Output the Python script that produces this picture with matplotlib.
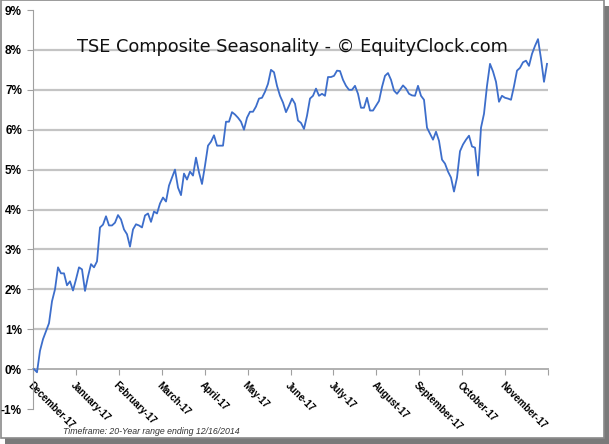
import matplotlib
matplotlib.use("Agg")
import matplotlib.pyplot as plt
import numpy as np
from matplotlib.patches import Rectangle

title = "TSE Composite Seasonality - \u00a9 EquityClock.com"
footer = "Timeframe: 20-Year range ending 12/16/2014"
months = ["December-17", "January-17", "February-17", "March-17", "April-17",
          "May-17", "June-17", "July-17", "August-17", "September-17",
          "October-17", "November-17"]
yticks = [-1, 0, 1, 2, 3, 4, 5, 6, 7, 8, 9]

# seasonal cumulative return (%), equally spaced through the year
values = [
    0.0, -0.08, 0.46, 0.75, 0.95, 1.15, 1.7, 2.0, 2.55, 2.4,
    2.4, 2.1, 2.2, 1.97, 2.25, 2.55, 2.5, 1.96, 2.32, 2.63,
    2.55, 2.7, 3.55, 3.62, 3.83, 3.6, 3.6, 3.67, 3.86, 3.75,
    3.5, 3.38, 3.07, 3.5, 3.63, 3.6, 3.55, 3.85, 3.9, 3.69,
    3.95, 3.9, 4.15, 4.3, 4.2, 4.6, 4.8, 5.0, 4.55, 4.36,
    4.9, 4.75, 4.95, 4.85, 5.3, 4.93, 4.64, 5.1, 5.6, 5.7,
    5.86, 5.6, 5.6, 5.6, 6.2, 6.2, 6.44, 6.38, 6.3, 6.2,
    6.0, 6.3, 6.45, 6.45, 6.58, 6.78, 6.8, 6.95, 7.15, 7.5,
    7.44, 7.1, 6.85, 6.68, 6.44, 6.6, 6.78, 6.65, 6.23, 6.17,
    6.02, 6.35, 6.78, 6.85, 7.03, 6.85, 6.9, 6.85, 7.32, 7.32,
    7.35, 7.48, 7.47, 7.25, 7.1, 7.0, 7.0, 7.1, 6.9, 6.55,
    6.55, 6.8, 6.48, 6.48, 6.6, 6.72, 7.07, 7.35, 7.42, 7.25,
    6.98, 6.9, 7.0, 7.11, 7.03, 6.9, 6.86, 6.85, 7.1, 6.85,
    6.75, 6.05, 5.9, 5.75, 5.95, 5.72, 5.25, 5.15, 4.95, 4.8,
    4.45, 4.8, 5.46, 5.63, 5.75, 5.85, 5.58, 5.55, 4.85, 6.05,
    6.4, 7.1, 7.65, 7.46, 7.2, 6.7, 6.85, 6.8, 6.78, 6.75,
    7.09, 7.48, 7.55, 7.69, 7.73, 7.6, 7.9, 8.1, 8.27, 7.78,
    7.2, 7.65,
]

W, H = 609, 444
fig = plt.figure(figsize=(W / 100, H / 100), dpi=100)
fig.patch.set_facecolor("white")

# frame and drop shadow
fig.patches.append(Rectangle((5 / W, 0), 604 / W, 6 / H, transform=fig.transFigure,
                             facecolor="#7a7a7a", edgecolor="none", zorder=0))
fig.patches.append(Rectangle((603 / W, 0), 6 / W, 438 / H, transform=fig.transFigure,
                             facecolor="#7a7a7a", edgecolor="none", zorder=0))
fig.patches.append(Rectangle((0.5 / W, 6 / H), 603 / W, 437.5 / H, transform=fig.transFigure,
                             facecolor="white", edgecolor="#8a8a8a", linewidth=1.2, zorder=1))

ax = fig.add_axes([33 / W, 1 - 409 / H, (548 - 33) / W, (409 - 10) / H])
ax.set_zorder(2)
ax.patch.set_alpha(0)

n = len(values)
x = np.arange(n)
span = (548 - 33) / 3.0
x0 = -(34 - 33) / 3.0
ax.set_xlim(x0, x0 + span)
ax.set_ylim(-1, 9)

for v in range(1, 9):
    ax.axhline(v, color="#c4c4c4", linewidth=1.6, zorder=1)

ax.plot(x, values, color="#3d6ecb", linewidth=1.3, zorder=3)

for s in ["top", "right"]:
    ax.spines[s].set_visible(False)
ax.spines["left"].set_color("#a0a0a0")
ax.spines["bottom"].set_color("#b0b0b0")
ax.spines["bottom"].set_linewidth(1.4)
ax.spines["bottom"].set_position(("data", 0))

ax.set_yticks(yticks)
ax.set_yticklabels([f"{v}%" for v in yticks], fontfamily="Liberation Sans",
                   fontweight="bold", fontsize=8.5)
ax.tick_params(axis="y", direction="out", length=4, color="#a0a0a0", pad=4)

ticks = [x0 + k * span / 12 for k in range(13)]
ax.set_xticks(ticks)
ax.set_xticklabels(months + [""], rotation=-45, ha="left", va="top",
                   rotation_mode="anchor", fontfamily="Liberation Sans",
                   fontweight="bold", fontsize=7)
ax.tick_params(axis="x", direction="out", length=4, color="#a0a0a0", pad=4)

fig.text(292 / W, 1 - 47 / H, title, ha="center", va="center",
         fontsize=12.8, fontfamily="DejaVu Sans", color="#111111")
fig.text(63 / W, 1 - 431 / H, footer, ha="left", va="center",
         fontsize=6.3, fontstyle="italic", fontfamily="Liberation Sans",
         color="#333333")

fig.savefig("out.png", dpi=100)
